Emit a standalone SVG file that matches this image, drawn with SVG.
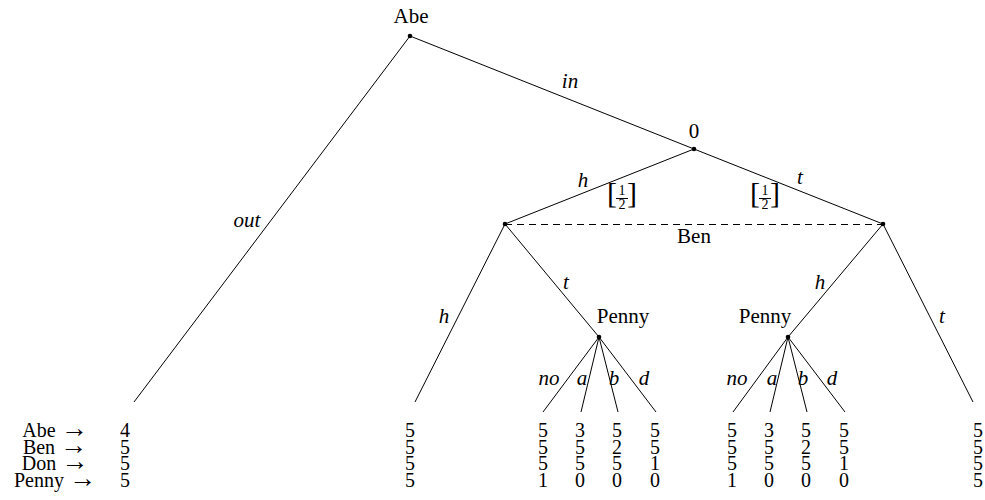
<svg xmlns="http://www.w3.org/2000/svg" width="985" height="500" viewBox="0 0 985 500">
<style>
text{font-family:"Liberation Serif","DejaVu Serif","Times New Roman",serif;font-size:21px;fill:#000;text-anchor:middle}
.it{font-style:italic}
.fr{font-size:14px}
.br{font-size:30px}
.tb{font-size:20px}
.ar{font-size:27px}
.e{stroke:#000;stroke-width:1;fill:none}
.dash{stroke:#000;stroke-width:1.1;stroke-dasharray:7 5;fill:none}
.dot{fill:#000}
</style>
<rect width="985" height="500" fill="#fff"/>
<g id="connectors">
<line class="e" x1="410" y1="36" x2="134" y2="402"/>
<line class="e" x1="410" y1="36" x2="694" y2="149"/>
<line class="e" x1="694" y1="149" x2="505" y2="224"/>
<line class="e" x1="694" y1="149" x2="883" y2="224"/>
<line class="e" x1="505" y1="224" x2="415" y2="402"/>
<line class="e" x1="505" y1="224" x2="599" y2="337"/>
<line class="e" x1="883" y1="224" x2="788" y2="337"/>
<line class="e" x1="883" y1="224" x2="973" y2="402"/>
<line class="e" x1="599" y1="337" x2="543" y2="412"/>
<line class="e" x1="599" y1="337" x2="581" y2="412"/>
<line class="e" x1="599" y1="337" x2="618" y2="412"/>
<line class="e" x1="599" y1="337" x2="656" y2="412"/>
<line class="e" x1="788" y1="337" x2="733" y2="412"/>
<line class="e" x1="788" y1="337" x2="770" y2="412"/>
<line class="e" x1="788" y1="337" x2="807" y2="412"/>
<line class="e" x1="788" y1="337" x2="845" y2="412"/>
<line class="dash" x1="505" y1="224.5" x2="883" y2="224.5"/>
<text class="it" x="570" y="88">in</text>
<text class="it" x="247" y="227">out</text>
<text class="it" x="583" y="187">h</text>
<text class="it" x="800" y="184">t</text>
<g id="prob-left">
<text class="br" x="612" y="203">[</text>
<text class="fr" x="622" y="195">1</text>
<line class="e" x1="616" y1="198.5" x2="628" y2="198.5"/>
<text class="fr" x="622" y="209">2</text>
<text class="br" x="632" y="203">]</text>
</g>
<g id="prob-right">
<text class="br" x="755" y="203">[</text>
<text class="fr" x="765" y="195">1</text>
<line class="e" x1="759" y1="198.5" x2="771" y2="198.5"/>
<text class="fr" x="765" y="209">2</text>
<text class="br" x="775" y="203">]</text>
</g>
<text class="it" x="444" y="323">h</text>
<text class="it" x="566" y="289">t</text>
<text class="it" x="820" y="289">h</text>
<text class="it" x="942" y="323">t</text>
<text class="it" x="549" y="385">no</text>
<text class="it" x="582" y="385">a</text>
<text class="it" x="614" y="385">b</text>
<text class="it" x="644" y="385">d</text>
<text class="it" x="737" y="385">no</text>
<text class="it" x="772" y="385">a</text>
<text class="it" x="803" y="385">b</text>
<text class="it" x="832" y="385">d</text>
</g>
<g id="node-abe"><circle class="dot" cx="410" cy="36" r="2.3"/><text x="411" y="23">Abe</text></g>
<g id="node-chance"><circle class="dot" cx="694" cy="149" r="2.3"/><text x="694" y="138">0</text></g>
<g id="node-ben-left"><circle class="dot" cx="505" cy="224" r="2.3"/></g>
<g id="node-ben-right"><circle class="dot" cx="883" cy="224" r="2.3"/></g>
<g id="label-ben"><text x="694" y="243">Ben</text></g>
<g id="node-penny-left"><circle class="dot" cx="599" cy="337" r="2.3"/><text x="623" y="323">Penny</text></g>
<g id="node-penny-right"><circle class="dot" cx="788" cy="337" r="2.3"/><text x="765" y="323">Penny</text></g>
<g id="players">
<text class="tb" x="55" y="437">Abe <tspan class="ar">→</tspan></text>
<text class="tb" x="55" y="453.5">Ben <tspan class="ar">→</tspan></text>
<text class="tb" x="55" y="470">Don <tspan class="ar">→</tspan></text>
<text class="tb" x="55" y="486.5">Penny <tspan class="ar">→</tspan></text>
</g>
<g id="leaf-out"><text class="tb" x="125" y="437">4</text><text class="tb" x="125" y="453.5">5</text><text class="tb" x="125" y="470">5</text><text class="tb" x="125" y="486.5">5</text></g>
<g id="leaf-h"><text class="tb" x="410" y="437">5</text><text class="tb" x="410" y="453.5">5</text><text class="tb" x="410" y="470">5</text><text class="tb" x="410" y="486.5">5</text></g>
<g id="leaf-l-no"><text class="tb" x="543" y="437">5</text><text class="tb" x="543" y="453.5">5</text><text class="tb" x="543" y="470">5</text><text class="tb" x="543" y="486.5">1</text></g>
<g id="leaf-l-a"><text class="tb" x="580" y="437">3</text><text class="tb" x="580" y="453.5">5</text><text class="tb" x="580" y="470">5</text><text class="tb" x="580" y="486.5">0</text></g>
<g id="leaf-l-b"><text class="tb" x="617" y="437">5</text><text class="tb" x="617" y="453.5">2</text><text class="tb" x="617" y="470">5</text><text class="tb" x="617" y="486.5">0</text></g>
<g id="leaf-l-d"><text class="tb" x="655" y="437">5</text><text class="tb" x="655" y="453.5">5</text><text class="tb" x="655" y="470">1</text><text class="tb" x="655" y="486.5">0</text></g>
<g id="leaf-r-no"><text class="tb" x="732" y="437">5</text><text class="tb" x="732" y="453.5">5</text><text class="tb" x="732" y="470">5</text><text class="tb" x="732" y="486.5">1</text></g>
<g id="leaf-r-a"><text class="tb" x="769" y="437">3</text><text class="tb" x="769" y="453.5">5</text><text class="tb" x="769" y="470">5</text><text class="tb" x="769" y="486.5">0</text></g>
<g id="leaf-r-b"><text class="tb" x="806" y="437">5</text><text class="tb" x="806" y="453.5">2</text><text class="tb" x="806" y="470">5</text><text class="tb" x="806" y="486.5">0</text></g>
<g id="leaf-r-d"><text class="tb" x="844" y="437">5</text><text class="tb" x="844" y="453.5">5</text><text class="tb" x="844" y="470">1</text><text class="tb" x="844" y="486.5">0</text></g>
<g id="leaf-t"><text class="tb" x="978" y="437">5</text><text class="tb" x="978" y="453.5">5</text><text class="tb" x="978" y="470">5</text><text class="tb" x="978" y="486.5">5</text></g>
</svg>
